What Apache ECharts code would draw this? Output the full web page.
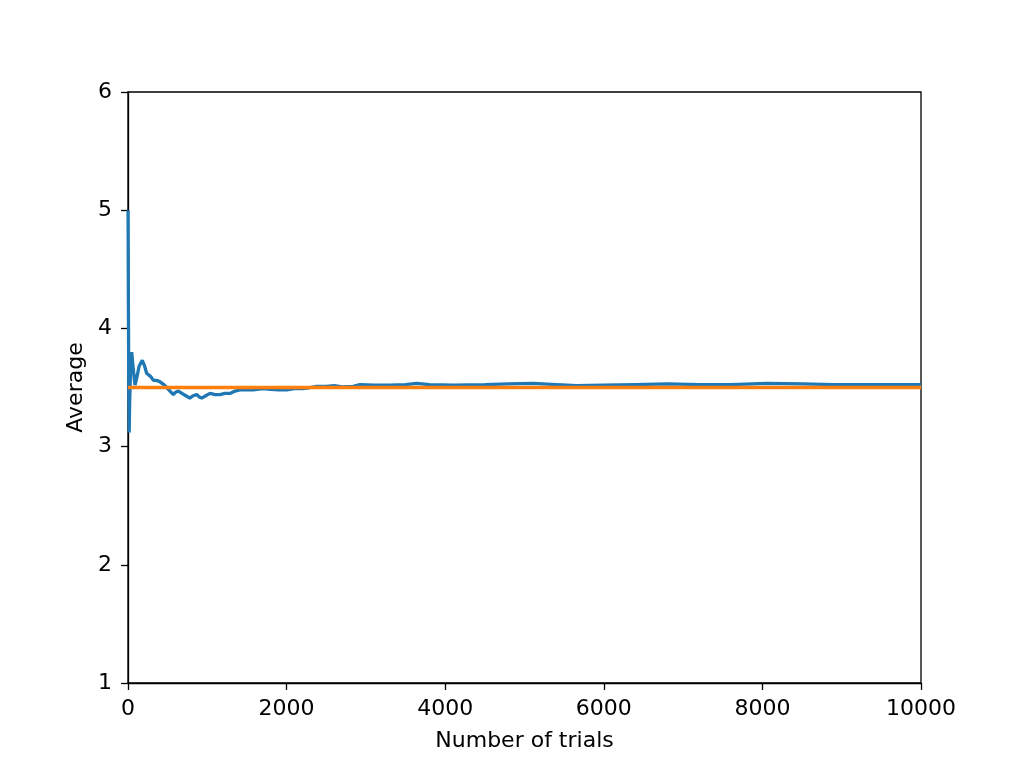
<!DOCTYPE html>
<html>
<head>
<meta charset="utf-8">
<script src="https://cdn.jsdelivr.net/npm/echarts@6/dist/echarts.min.js"></script>
<style>html,body{margin:0;padding:0;background:#fff}#c{width:1024px;height:768px}</style>
</head>
<body>
<div id="c"></div>
<script>
const trials = [1,5,10,15,20,30,47,60,75,88,110,140,180,210,235,260,290,320,360,400,425,460,488,530,572,600,635,680,730,780,820,866,900,930,980,1034,1100,1160,1220,1286,1350,1412,1500,1580,1700,1800,1900,2000,2100,2207,2300,2380,2500,2600,2700,2840,2925,3100,3300,3500,3640,3800,4100,4500,4800,5110,5400,5660,6000,6400,6800,7200,7600,8060,8500,8900,9300,9600,10000];
const averages = [5.0,4.2,3.5,3.12,3.35,3.6,3.80,3.70,3.60,3.52,3.58,3.68,3.73,3.68,3.62,3.62,3.59,3.56,3.56,3.55,3.55,3.52,3.50,3.47,3.44,3.46,3.47,3.45,3.43,3.41,3.43,3.44,3.42,3.41,3.43,3.45,3.44,3.44,3.45,3.45,3.47,3.48,3.48,3.48,3.49,3.485,3.48,3.48,3.49,3.49,3.50,3.51,3.51,3.515,3.505,3.51,3.525,3.52,3.52,3.525,3.535,3.525,3.52,3.525,3.53,3.535,3.525,3.515,3.52,3.525,3.53,3.525,3.525,3.535,3.53,3.525,3.525,3.525,3.525];
const expectedX = [0, 10000];
const expectedY = [3.5, 3.5];

const chart = echarts.init(document.getElementById('c'), null, {renderer: 'canvas'});
const font = 'DejaVu Sans';
chart.setOption({
  animation: false,
  backgroundColor: '#fff',
  grid: {left: 128, right: 103, top: 92, bottom: 85, show: true, borderColor: '#000', borderWidth: 1.3, backgroundColor: 'transparent'},
  xAxis: {
    type: 'value', min: 0, max: 10000, interval: 2000,
    name: 'Number of trials', nameLocation: 'middle', nameGap: 47,
    nameTextStyle: {fontFamily: font, fontSize: 22, color: '#000'},
    axisLine: {show: true, onZero: false, lineStyle: {color: '#000', width: 1.3}},
    axisTick: {show: true, length: 7, lineStyle: {color: '#000', width: 1.3}},
    axisLabel: {fontFamily: font, fontSize: 22, color: '#000', margin: 15, formatter: v => String(v)},
    splitLine: {show: false}
  },
  yAxis: {
    type: 'value', min: 1, max: 6, interval: 1,
    name: 'Average', nameLocation: 'middle', nameGap: 35,
    nameTextStyle: {fontFamily: font, fontSize: 22, color: '#000'},
    axisLine: {show: true, onZero: false, lineStyle: {color: '#000', width: 1.3}},
    axisTick: {show: true, length: 7, lineStyle: {color: '#000', width: 1.3}},
    axisLabel: {fontFamily: font, fontSize: 22, color: '#000', margin: 16},
    splitLine: {show: false}
  },
  series: [
    {type: 'line', data: trials.map((t, i) => [t, averages[i]]), showSymbol: false, symbol: 'none',
     lineStyle: {color: '#1f77b4', width: 3.3}, z: 2},
    {type: 'line', data: expectedX.map((t, i) => [t, expectedY[i]]), showSymbol: false, symbol: 'none',
     lineStyle: {color: '#ff7f0e', width: 3.3}, z: 3}
  ]
});
</script>
</body>
</html>
